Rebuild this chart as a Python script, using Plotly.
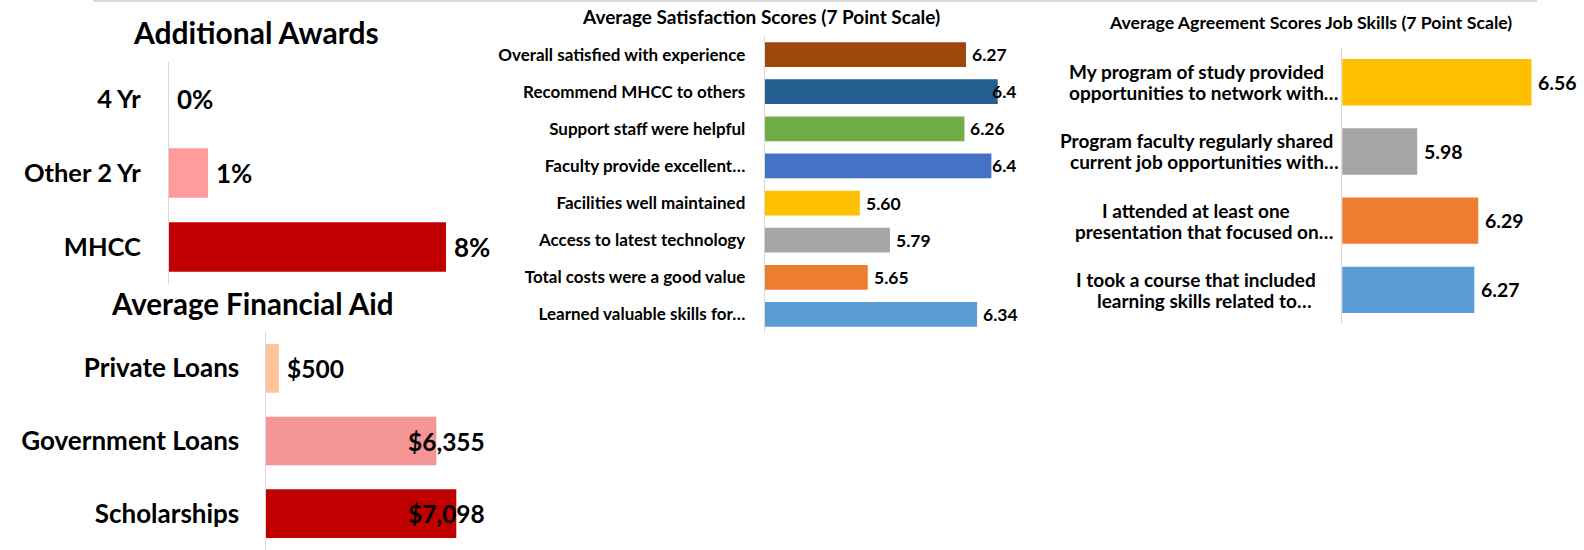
import plotly.graph_objects as go

W, H = 1584, 550
FONT = "Lato"

# ---------------- data ----------------
award_cats = ["4 Yr", "Other 2 Yr", "MHCC"]
award_vals = [0.0, 0.011, 0.078]
award_colors = ["#FF9B9B", "#FF9B9B", "#C00000"]

aid_cats = ["Private Loans", "Government Loans", "Scholarships"]
aid_vals = [500, 6355, 7098]
aid_colors = ["#FFC499", "#F59595", "#C00000"]

sat_cats = ["Overall satisfied with experience", "Recommend MHCC to others",
            "Support staff were helpful", "Faculty provide excellent…",
            "Facilities well maintained", "Access to latest technology",
            "Total costs were a good value", "Learned valuable skills for…"]
sat_vals = [6.27, 6.47, 6.26, 6.43, 5.60, 5.79, 5.65, 6.34]
sat_labels = ["6.27", "6.4", "6.26", "6.4", "5.60", "5.79", "5.65", "6.34"]
sat_colors = ["#9E480E", "#255E91", "#70AD47", "#4472C4",
              "#FFC000", "#A5A5A5", "#ED7D31", "#5B9BD5"]

job_cats = ["My program of study provided<br>opportunities to network with…",
            "Program faculty regularly shared<br>current job opportunities with…",
            "I attended at least one<br>presentation that focused on…",
            "I took a course that included<br>learning skills related to…"]
job_vals = [6.56, 5.98, 6.29, 6.27]
job_colors = ["#FFC000", "#A5A5A5", "#ED7D31", "#5B9BD5"]


def dx(p):
    return min(max(p / W, 0), 1)


def dy(p):
    return min(max(1 - p / H, 0), 1)


CHARW = {".": 0.26, ",": 0.26, "%": 0.82, "$": 0.58}


def text_w(t, size):
    return sum(CHARW.get(ch, 0.58) for ch in t) * size


fig = go.Figure()
annotations = []

panels = [
    dict(cats=award_cats, vals=award_vals, colors=award_colors,
         labels=[f"{v:.0%}" for v in award_vals], xr=(0, 0.0932),
         xpx=(169, 500), ypx=(62, 284), tf=25.5, tl=22, vf=26, gap=6),
    dict(cats=aid_cats, vals=aid_vals, colors=aid_colors,
         labels=[f"${v:,.0f}" for v in aid_vals], xr=(0, 8240),
         xpx=(265.5, 487), ypx=(332, 550), tf=26, tl=20, vf=24.5, gap=6),
    dict(cats=sat_cats, vals=sat_vals, colors=sat_colors,
         labels=sat_labels, xr=(5, 6.598),
         xpx=(764.7, 1018), ypx=(36, 333), tf=17, tl=15, vf=17.5, gap=4),
    dict(cats=job_cats, vals=job_vals, colors=job_colors,
         labels=[f"{v:.2f}" for v in job_vals], xr=(5.6, 6.796),
         xpx=(1342.3, 1578), ypx=(47.7, 324.4), tf=19, tl=15, vf=19.5, gap=5),
]

for i, p in enumerate(panels, start=1):
    xa = "x" if i == 1 else f"x{i}"
    ya = "y" if i == 1 else f"y{i}"
    fig.add_trace(go.Bar(
        x=p["vals"], y=p["cats"], orientation="h",
        marker=dict(color=p["colors"], line=dict(width=0)),
        xaxis=xa, yaxis=ya, hoverinfo="skip", showlegend=False,
    ))
    n = len(p["cats"])
    xlay = "xaxis" if i == 1 else f"xaxis{i}"
    ylay = "yaxis" if i == 1 else f"yaxis{i}"
    fig.update_layout(**{
        xlay: dict(domain=[dx(p["xpx"][0]), dx(p["xpx"][1])], range=list(p["xr"]),
                   anchor=ya, visible=False, fixedrange=True),
        ylay: dict(domain=[dy(p["ypx"][1]), dy(p["ypx"][0])], range=[n - 0.5, -0.5],
                   anchor=xa, type="category",
                   showline=True, linecolor="#D9D9D9", linewidth=1,
                   showgrid=False, zeroline=False,
                   ticks="outside", ticklen=p["tl"], tickcolor="rgba(0,0,0,0)",
                   tickfont=dict(family=FONT, size=p["tf"], color="#000000", weight=700),
                   showticklabels=(i != 4), fixedrange=True),
    })
    x0, x1 = p["xr"]
    l_px, r_px = p["xpx"]
    scale = (r_px - l_px) / (x1 - x0)
    for c, v, t in zip(p["cats"], p["vals"], p["labels"]):
        end_px = l_px + (v - x0) * scale
        w = text_w(t, p["vf"])
        if end_px + p["gap"] + w > r_px:
            ax, anch, shift = x1, "right", 0
        else:
            ax, anch, shift = v, "left", p["gap"]
        annotations.append(dict(
            x=ax, y=c, xref=xa, yref=ya, text=t, showarrow=False,
            xanchor=anch, yanchor="middle", xshift=shift,
            font=dict(family=FONT, size=p["vf"], color="#000000", weight=700)))

# centred two-line category labels for the job-skills chart
line_centres = [1196, 1204]
for c in job_cats:
    lines = c.split("<br>")
    for k, line in enumerate(lines):
        annotations.append(dict(
            x=dx(line_centres[k]), y=c, xref="paper", yref="y4", text=line,
            showarrow=False, xanchor="center", yanchor="middle", align="center",
            yshift=(len(lines) - 1) * 10.5 - k * 21,
            font=dict(family=FONT, size=19, color="#000000", weight=700)))

titles = [
    ("Additional Awards", 256, 32, 30),
    ("Average Financial Aid", 252, 303, 29.5),
    ("Average Satisfaction Scores (7 Point Scale)", 761, 17, 19),
    ("Average Agreement Scores Job Skills (7 Point Scale)", 1310, 22, 17.7),
]
for t, x, y, s in titles:
    annotations.append(dict(
        x=dx(x), y=dy(y), xref="paper", yref="paper", text=t, showarrow=False,
        xanchor="center", yanchor="middle",
        font=dict(family=FONT, size=s, color="#000000", weight=700)))

fig.update_layout(
    width=W, height=H, margin=dict(l=0, r=0, t=0, b=0),
    paper_bgcolor="white", plot_bgcolor="white",
    bargap=0.33, annotations=annotations,
    shapes=[dict(type="line", xref="paper", yref="paper",
                 x0=dx(93), x1=dx(1537), y0=dy(1), y1=dy(1),
                 line=dict(color="#D9D9D9", width=2))],
)

fig.write_html("out.html", config={"displayModeBar": False},
               post_script="document.body.style.margin='0px';document.body.style.padding='0px';")
